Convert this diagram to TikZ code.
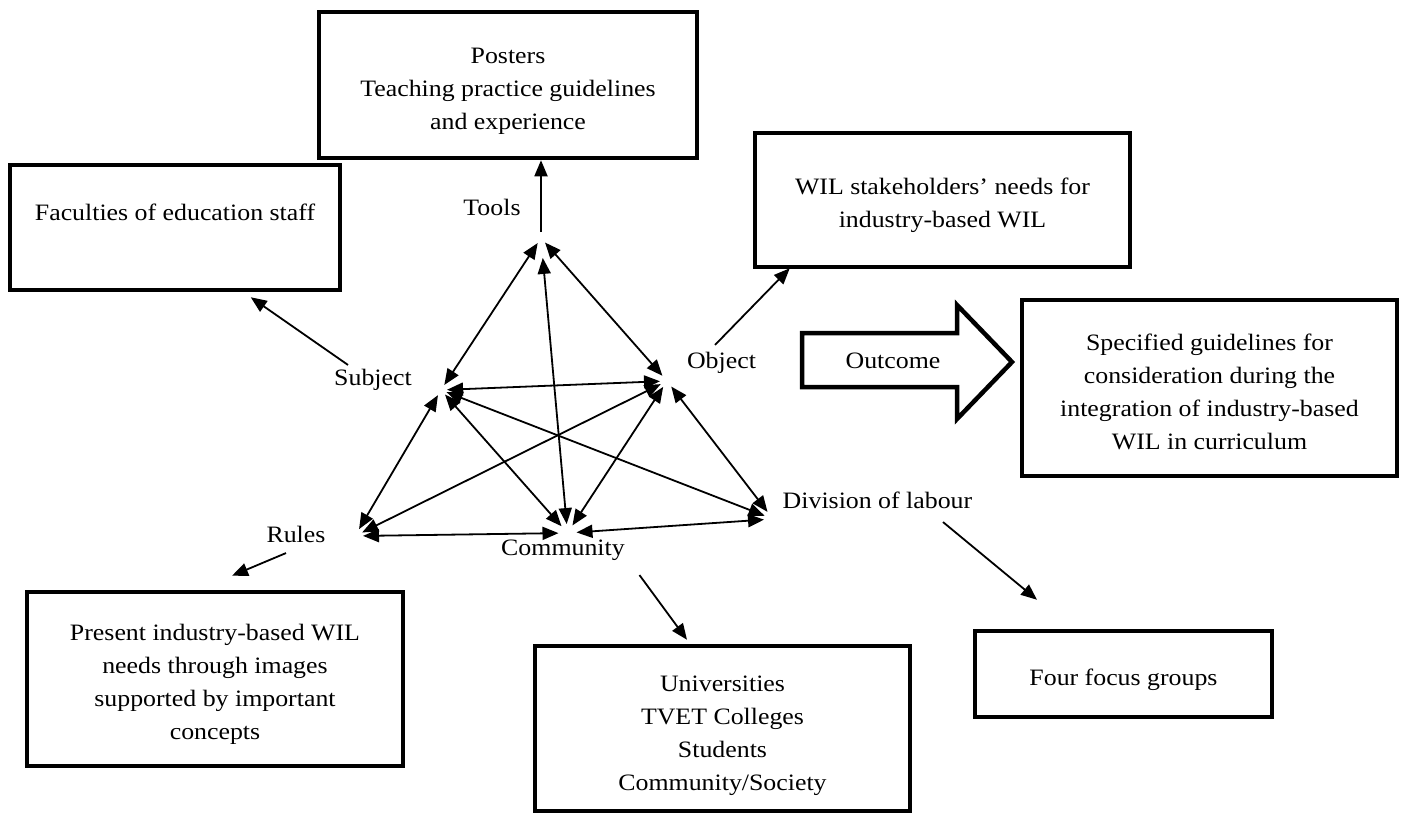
\documentclass[tikz,border=0pt]{standalone}
\usepackage{fontspec}
\setmainfont{Liberation Serif}[FakeStretch=1.1]
\usetikzlibrary{arrows.meta,calc}
% centred block of lines, lowered by the optional amount inside its box
\newcommand\boxlines[2][11pt]{\raisebox{-#1}[0pt][0pt]{\begin{tabular}{@{}c@{}}#2\end{tabular}}}
\begin{document}
\begin{tikzpicture}[x=1pt,y=-1pt,
  every node/.style={font=\fontsize{23.5}{33}\selectfont},
  box/.style={draw, line width=4.5pt, inner sep=0pt},
  lbl/.style={inner sep=0pt, text height=16.5pt, text depth=5.2pt},
  vtx/.style={circle, inner sep=0pt, outer sep=0pt, minimum size=#1},
  link/.style={line width=1.8pt, {Triangle[length=16pt,width=13pt]}-{Triangle[length=16pt,width=13pt]}},
  feed/.style={line width=1.8pt, -{Triangle[length=16pt,width=13pt]}},
]
\useasboundingbox[fill=white] (0,0) rectangle (1404,812);

% outer boxes
\node[box, minimum width=378pt, minimum height=146pt] (posters) at (508,85)
  {\boxlines{Posters\\Teaching practice guidelines\\and experience}};
\node[box, minimum width=330pt, minimum height=125pt] (faculty) at (175,227.5)
  {\boxlines[-7.5pt]{Faculties of education staff}};
\node[box, minimum width=375pt, minimum height=134pt] (needs) at (942.5,200)
  {\boxlines{WIL stakeholders’ needs for\\industry-based WIL}};
\node[box, minimum width=375pt, minimum height=176pt] (guide) at (1209.5,388)
  {\boxlines[12pt]{Specified guidelines for\\consideration during the\\integration of industry-based\\WIL in curriculum}};
\node[box, minimum width=376pt, minimum height=174pt] (present) at (215,679)
  {\boxlines{Present industry-based WIL\\needs through images\\supported by important\\concepts}};
\node[box, minimum width=375pt, minimum height=165pt] (groups) at (722.5,728.5)
  {\boxlines[12pt]{Universities\\TVET Colleges\\Students\\Community/Society}};
\node[box, minimum width=297pt, minimum height=86pt] (focus) at (1123.5,674)
  {\boxlines[11.5pt]{Four focus groups}};

% outcome block arrow
\draw[line width=4.5pt, line join=miter]
  (802,333) -- (957,333) -- (957,305) -- (1012,362) -- (957,419) -- (957,387) -- (802,387) -- cycle;
\node[lbl] (outcome) at (893,363) {Outcome};

% activity system labels
\node[lbl] (tools) at (492,210) {Tools};
\node[lbl] (subject) at (373,380) {Subject};
\node[lbl] (object) at (721.5,363) {Object};
\node[lbl] (rules) at (296,537) {Rules};
\node[lbl] (community) at (563,550) {Community};
\node[lbl] (division) at (877.5,503) {Division of labour};

% corners of the activity triangle
\node[vtx=12pt] (vT) at (541,238) {};
\node[vtx=12pt] (vS) at (441,390) {};
\node[vtx=14pt] (vO) at (667,381) {};
\node[vtx=16pt] (vR) at (355,536) {};
\node[vtx=18pt] (vC) at (567.5,533) {};
\node[vtx=18pt] (vD) at (773,519) {};

% mutual relations
\draw[link] (vT) -- (vS);
\draw[link] (vT) -- (vO);
\draw[link, shorten <=14pt] (vT) -- (vC);
\draw[link] (vS) -- (vO);
\draw[link] (vS) -- (vR);
\draw[link] (vS) -- (vC);
\draw[link] (vS) -- (vD);
\draw[link] (vO) -- (vR);
\draw[link] (vO) -- (vC);
\draw[link] (vO) -- (vD);
\draw[link] (vR) -- (vC);
\draw[link] (vC) -- (vD);

% element to description
\draw[feed] (vT) -- (vT |- posters.south);
\draw[feed] ($(subject.north)+(-25,-4)$) -- ($(faculty.south west)+(243,5)$);
\draw[feed] ($(object.north)+(-6.5,-7)$) -- ($(needs.south west)+(37,-1)$);
\draw[feed] ($(rules.south)+(-10,5)$) -- ($(present.north)+(17,-14)$);
\draw[feed] ($(community.south east)+(14.5,14)$) -- ($(groups.north)+(-35.5,-4)$);
\draw[feed] ($(division.south)+(65.5,8)$) -- ($(focus.north)+(-86.5,-29)$);
\end{tikzpicture}
\end{document}
